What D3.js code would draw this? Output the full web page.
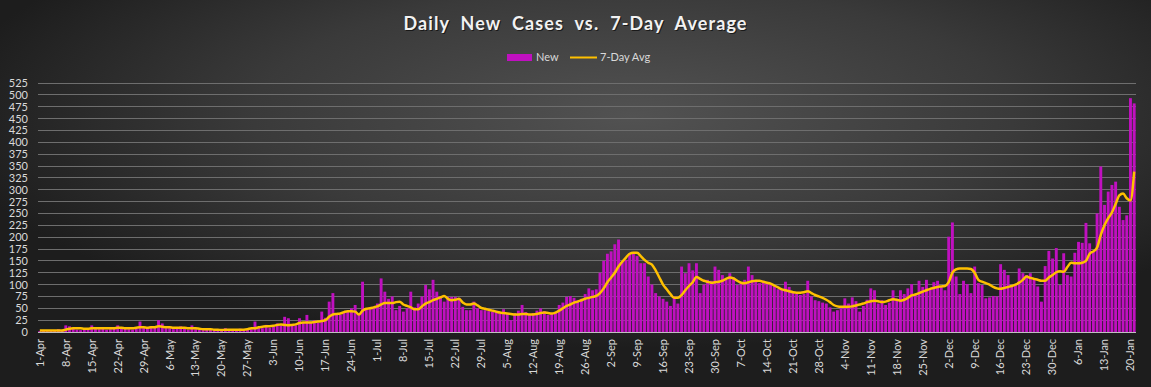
<!DOCTYPE html>
<html>
<head>
<meta charset="utf-8">
<script src="https://cdn.jsdelivr.net/npm/d3@7"></script>
<style>
  body { margin: 0; background: #2a2a2a; }
  svg { display: block; }
</style>
</head>
<body>
<div id="chart"></div>
<script>
// daily new cases, 1-Apr onwards (one value per day)
var newCases = [
  2,3,2,4,3,6,3, 14,12,9,5,4,6,5, 14,8,6,7,5,6,8, 14,10,7,6,5,8,22,
  10,7,12,9,25,18,8, 8,6,7,12,8,5,14, 6,5,4,7,5,4,3, 4,8,3,5,6,7,4,
  5,6,22,10,8,15,9, 12,18,14,32,29,16,14, 29,20,36,22,25,20,43, 30,64,82,39,36,40,45,
  50,57,40,106,50,48,53, 60,113,85,70,75,46,55, 43,50,85,52,60,75,99, 90,110,85,75,64,74,74,
  74,72,53,46,46,64,50, 46,46,44,43,45,39,48, 38,25,40,45,57,42,36, 40,45,50,44,36,40,42,
  57,62,74,76,72,67,70, 80,92,88,90,125,150,165, 170,185,195,148,152,166,166, 160,145,145,117,100,82,75,
  70,64,55,75,60,138,124, 145,130,145,82,100,110,108, 138,131,120,110,124,115,99, 105,110,138,120,110,103,108,
  103,100,96,90,89,106,95, 85,80,78,80,108,75,67, 65,62,60,52,43,46,50, 71,60,73,65,43,55,68,
  92,88,60,67,57,62,88, 70,88,80,92,101,80,108, 95,110,90,105,108,95,88, 201,231,117,80,108,101,82,
  138,103,99,71,73,76,75, 143,131,120,99,99,134,124, 120,124,110,96,64,139,171, 155,177,99,166,120,117,167,
  190,188,230,187,169,250,349, 268,296,310,317,264,236,246, 493,482
];

// 7-day average
var avg7 = [
  3,3,3,3,3,3,3, 5,7,8,8,8,7,7, 8,8,8,8,8,8,8, 9,9,8,8,8,9,10,
  10,9,10,10,12,11,10, 10,9,9,9,9,8,8, 8,7,6,6,6,5,5, 4,5,5,5,5,5,5,
  6,8,8,10,11,12,12, 13,15,16,15,14,15,16, 19,20,20,20,21,22,23, 25,32,37,38,39,42,44,
  44,43,37,45,49,50,52, 54,58,61,61,61,63,64, 58,55,52,48,48,54,60, 63,67,70,73,76,70,67,
  68,70,62,58,58,60,56, 51,49,47,45,43,41,40, 39,38,37,37,38,38,37, 37,38,40,41,40,39,41,
  45,50,55,58,62,64,67, 70,72,74,76,82,92,105, 115,125,138,148,157,165,167, 167,160,152,146,142,130,115,
  100,90,80,72,72,78,88, 97,105,116,112,108,106,104, 105,106,108,112,115,113,108, 104,103,105,107,108,108,106,
  104,102,98,94,90,88,86, 84,83,83,84,86,82,78, 75,72,68,63,57,54,53, 53,53,54,56,58,60,63,
  65,66,65,63,64,67,69, 68,66,68,72,77,79,82, 85,88,91,93,95,96,97, 105,125,132,134,134,134,133,
  125,110,106,103,100,95,92, 91,93,95,97,100,104,110, 117,114,112,110,108,108,115, 120,126,128,127,137,146,145,
  145,146,150,165,170,178,205, 225,240,252,270,288,292,282, 277,338
];

var tickLabels = ["1-Apr","8-Apr","15-Apr","22-Apr","29-Apr","6-May","13-May","20-May","27-May",
  "3-Jun","10-Jun","17-Jun","24-Jun","1-Jul","8-Jul","15-Jul","22-Jul","29-Jul","5-Aug","12-Aug",
  "19-Aug","26-Aug","2-Sep","9-Sep","16-Sep","23-Sep","30-Sep","7-Oct","14-Oct","21-Oct","28-Oct",
  "4-Nov","11-Nov","18-Nov","25-Nov","2-Dec","9-Dec","16-Dec","23-Dec","30-Dec","6-Jan","13-Jan","20-Jan"];

var yTicks = d3.range(0, 526, 25);

var W = 1151, H = 387;
var margin = {top: 83, right: 15, bottom: 55, left: 38};
var pw = W - margin.left - margin.right,
    ph = H - margin.top - margin.bottom;

var svg = d3.select("#chart").append("svg")
  .attr("width", W)
  .attr("height", H);

var defs = svg.append("defs");
var grad = defs.append("radialGradient")
  .attr("id", "bg")
  .attr("cx", "55%").attr("cy", "30%").attr("r", "60%");
grad.append("stop").attr("offset", "0%").attr("stop-color", "#525252");
grad.append("stop").attr("offset", "55%").attr("stop-color", "#3a3a3a");
grad.append("stop").attr("offset", "100%").attr("stop-color", "#1d1d1d");

svg.append("rect")
  .attr("width", W).attr("height", H)
  .attr("fill", "url(#bg)");

var days = d3.range(newCases.length);

var x = d3.scaleBand()
  .domain(days)
  .range([0, pw])
  .paddingInner(0.22)
  .paddingOuter(0.1);

var y = d3.scaleLinear()
  .domain([0, 525])
  .range([ph, 0]);

var g = svg.append("g")
  .attr("transform", "translate(" + margin.left + "," + margin.top + ")");

// gridlines
g.append("g").selectAll("line")
  .data(yTicks.filter(d => d > 0))
  .enter().append("line")
    .attr("x1", 0).attr("x2", pw)
    .attr("y1", d => y(d)).attr("y2", d => y(d))
    .attr("stroke", "#6e6e6e")
    .attr("stroke-width", 1)
    .attr("shape-rendering", "crispEdges");

// y axis labels
var yAxis = g.append("g")
  .attr("transform", "translate(-10,0)")
  .call(d3.axisLeft(y).tickValues(yTicks).tickSize(0).tickPadding(0));
yAxis.select(".domain").remove();
yAxis.selectAll("text")
  .attr("fill", "#d9d9d9")
  .style("font-family", "Lato, 'Open Sans', sans-serif")
  .style("font-size", "11px");

// bars
g.append("g").selectAll("rect")
  .data(days)
  .enter().append("rect")
    .attr("x", d => x(d))
    .attr("width", x.bandwidth())
    .attr("y", d => y(newCases[d]))
    .attr("height", d => y(0) - y(newCases[d]))
    .attr("fill", "#c010c0");

// baseline
g.append("line")
  .attr("x1", 0).attr("x2", pw)
  .attr("y1", y(0)).attr("y2", y(0))
  .attr("stroke", "#bfbfbf")
  .attr("shape-rendering", "crispEdges");

// 7 day avg line
var line = d3.line()
  .x((d, i) => x(i) + x.bandwidth() / 2)
  .y(d => y(d))
  .curve(d3.curveMonotoneX);

g.append("path")
  .datum(avg7)
  .attr("d", line)
  .attr("fill", "none")
  .attr("stroke", "#ffc000")
  .attr("stroke-width", 2.5)
  .attr("stroke-linejoin", "round");

// x axis labels, one every 7 days
var xAxis = g.append("g")
  .attr("transform", "translate(0," + ph + ")")
  .call(d3.axisBottom(x)
    .tickValues(tickLabels.map((t, i) => i * 7))
    .tickFormat((d, i) => tickLabels[i])
    .tickSize(0));
xAxis.select(".domain").remove();
xAxis.selectAll("text")
  .attr("fill", "#d9d9d9")
  .style("font-family", "Lato, 'Open Sans', sans-serif")
  .style("font-size", "11px")
  .attr("text-anchor", "end")
  .attr("transform", "rotate(-90)")
  .attr("x", -7)
  .attr("y", 0)
  .attr("dy", "0.35em");

// title
var title = "Daily  New  Cases  vs.  7-Day  Average";
svg.append("text")
  .attr("x", W / 2 + 1).attr("y", 31)
  .attr("text-anchor", "middle")
  .attr("fill", "#000").attr("opacity", 0.6)
  .style("font-family", "Lato, 'Open Sans', sans-serif")
  .style("font-weight", "bold")
  .style("font-size", "18px")
  .style("letter-spacing", "1.1px")
  .style("white-space", "pre")
  .text(title);
svg.append("text")
  .attr("x", W / 2).attr("y", 30)
  .attr("text-anchor", "middle")
  .attr("fill", "#f2f2f2")
  .style("font-family", "Lato, 'Open Sans', sans-serif")
  .style("font-weight", "bold")
  .style("font-size", "18px")
  .style("letter-spacing", "1.1px")
  .style("white-space", "pre")
  .text(title);

// legend
var legend = svg.append("g")
  .style("font-family", "Lato, 'Open Sans', sans-serif")
  .style("font-size", "11px");
legend.append("rect")
  .attr("x", 507).attr("y", 54)
  .attr("width", 25).attr("height", 7)
  .attr("fill", "#c010c0");
legend.append("text")
  .attr("x", 536).attr("y", 61)
  .attr("fill", "#d9d9d9")
  .text("New");
legend.append("line")
  .attr("x1", 570).attr("x2", 597)
  .attr("y1", 57.5).attr("y2", 57.5)
  .attr("stroke", "#ffc000")
  .attr("stroke-width", 2);
legend.append("text")
  .attr("x", 600).attr("y", 61)
  .attr("fill", "#d9d9d9")
  .text("7-Day Avg");
</script>
</body>
</html>
